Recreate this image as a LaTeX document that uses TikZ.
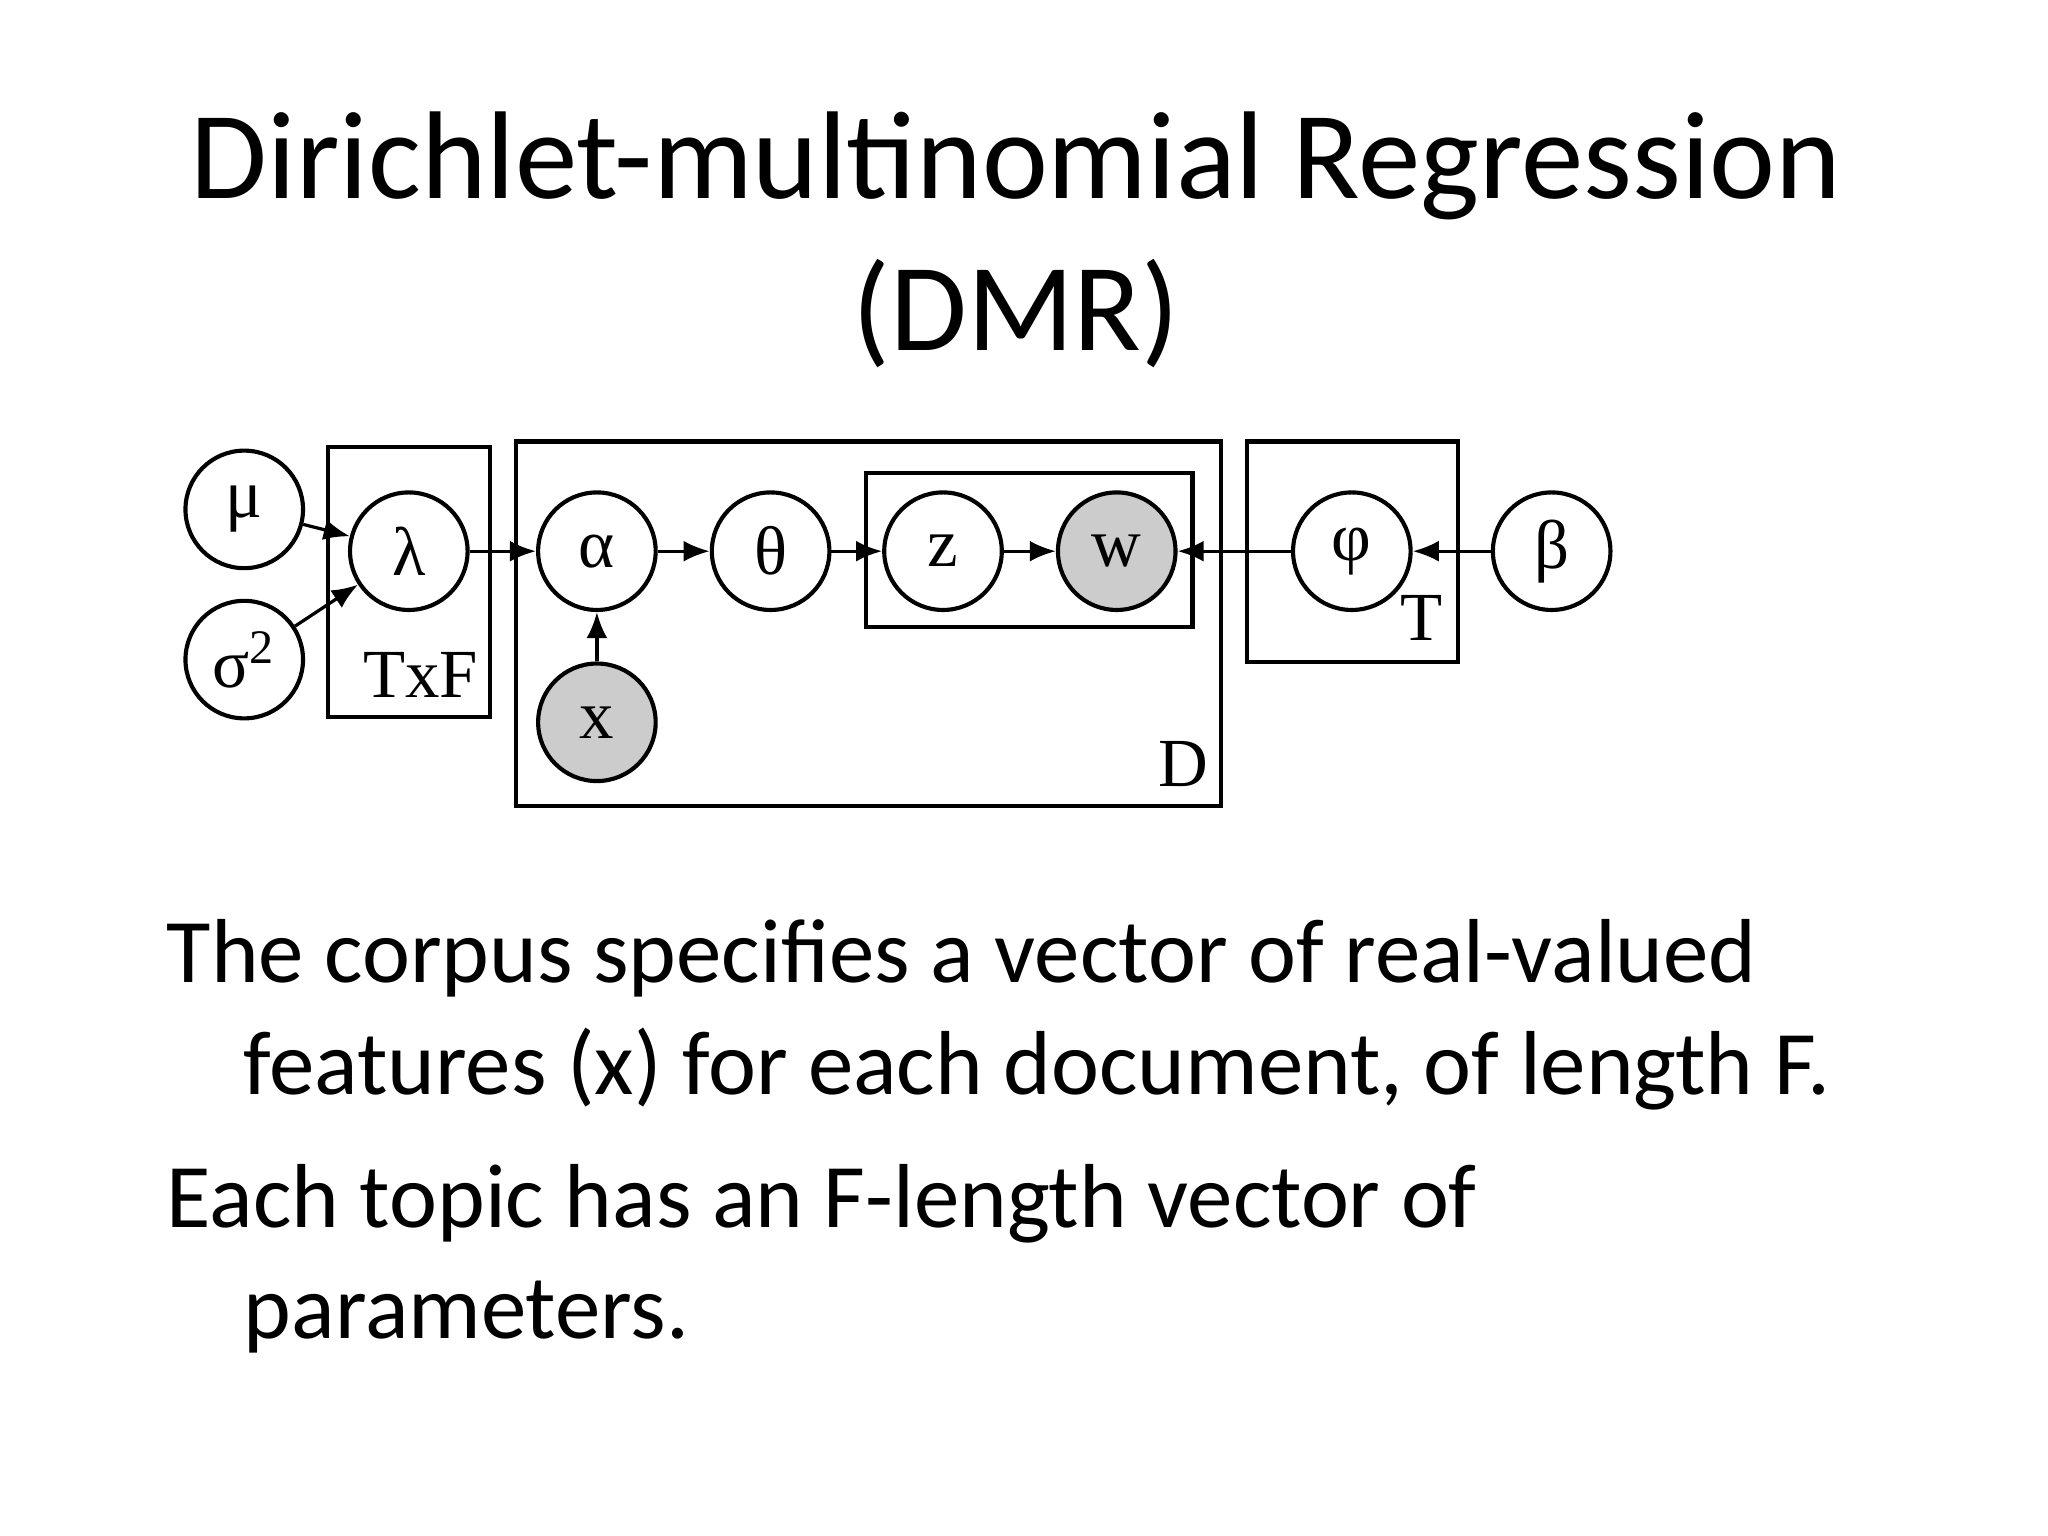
\documentclass[tikz,border=0pt]{standalone}
\usepackage{fontspec}
\setmainfont{Carlito}
\newfontfamily\tms{Liberation Serif}
\usetikzlibrary{arrows.meta}
\begin{document}
\begin{tikzpicture}[x=0.1mm,y=-0.1mm,
  var/.style={circle,draw,line width=0.9pt,minimum size=9mm,inner sep=0pt,font=\tms\fontsize{15}{15}\selectfont},
  obs/.style={var,fill=black!20},
  plate/.style={draw,line width=0.9pt},
  edge/.style={-{Latex[length=2mm,width=1.6mm]},line width=0.7pt},
  lbl/.style={font=\tms\fontsize{15}{15}\selectfont},
  body/.style={anchor=base west,font=\fontsize{19.8}{19.8}\selectfont,inner sep=0pt}]
\useasboundingbox (0,0) rectangle (1568,1176);
\node[anchor=base,font=\fontsize{27.2}{27.2}\selectfont,inner sep=0pt] (t1) at (778,152) {Dirichlet-multinomial Regression};
\node[anchor=base,font=\fontsize{27.2}{27.2}\selectfont,inner sep=0pt] (t2) at (778,268) {(DMR)};
% plates
\draw[plate] (251,342) rectangle (375,549);
\draw[plate] (395,338) rectangle (935,617);
\draw[plate] (663,362) rectangle (913,480);
\draw[plate] (955,338) rectangle (1116,507);
\node[lbl] (lTF) at (322,517) {TxF};
\node[lbl] (lD) at (906,585) {D};
\node[lbl] (lT) at (1088,473) {T};
% nodes
\node[var] (mu) at (187,390) {μ};
\node[var] (sig) at (187,505) {σ\textsuperscript{2}};
\node[var] (lam) at (313,422) {λ};
\node[var] (alp) at (457,422) {α};
\node[var] (the) at (590,422) {θ};
\node[var] (z) at (722,422) {z};
\node[obs] (w) at (855,422) {w};
\node[var] (phi) at (1035,422) {φ};
\node[var] (bet) at (1188,422) {β};
\node[obs] (x) at (457,553) {x};
% edges
\draw[edge] (mu) -- (lam);
\draw[edge] (sig) -- (lam);
\draw[edge] (lam) -- (alp);
\draw[edge] (alp) -- (the);
\draw[edge] (the) -- (z);
\draw[edge] (z) -- (w);
\draw[edge] (phi) -- (w);
\draw[edge] (bet) -- (phi);
\draw[edge] (x) -- (alp);
% body
\node[body] (b1) at (127,752) {The corpus specifies a vector of real-valued};
\node[body] (b2) at (186,838) {features (x) for each document, of length F.};
\node[body] (b3) at (127,940) {Each topic has an F-length vector of};
\node[body] (b4) at (186,1025) {parameters.};
\end{tikzpicture}
\end{document}
